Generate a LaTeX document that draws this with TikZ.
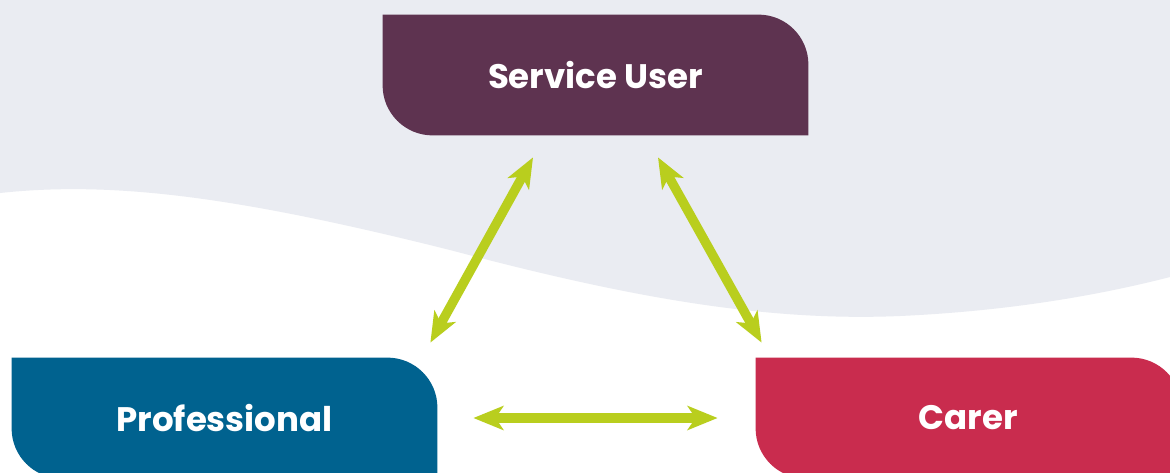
\documentclass[tikz,border=0pt]{standalone}
\usepackage{fontspec}
\setmainfont{Poppins}
\definecolor{wavegrey}{RGB}{234,236,242}
\definecolor{userplum}{RGB}{94,51,80}
\definecolor{problue}{RGB}{0,98,143}
\definecolor{carercrimson}{RGB}{201,44,78}
\definecolor{linklime}{RGB}{185,206,30}
\usetikzlibrary{calc}
\usetikzlibrary{backgrounds,arrows.meta}
\tikzset{
  role/.style={minimum width=212.5pt, minimum height=60pt, inner sep=0pt,
    text=white, font=\fontsize{17}{20}\selectfont\bfseries},
  link/.style={draw=linklime, line width=4.7pt,
    {Stealth[length=15pt,width=12pt,inset=4pt]}-{Stealth[length=15pt,width=12pt,inset=4pt]}}
}
% tile with rounded top right and bottom left corners
\newcommand{\roletile}[2]{%
  \fill[#2] (#1.north west) -- ([xshift=-25pt]#1.north east)
    arc[start angle=90,end angle=0,radius=25pt] -- (#1.south east)
    -- ([xshift=25pt]#1.south west)
    arc[start angle=270,end angle=180,radius=25pt] -- cycle;}

\begin{document}
\begin{tikzpicture}[x=0.5pt,y=0.5pt]
  \useasboundingbox (0,0) rectangle (1170,472);
  \node[role] (user) at (595.5,397) {Service User};
  \node[role] (pro) at (224.5,54) {Professional};
  \node[role] (carer) at (968.5,54) {Carer};

  \begin{scope}[on background layer]
    \fill[white] (0,0) rectangle (1170,472);
    \fill[wavegrey] (0,472) -- (1170,472) -- (1170,195)
      .. controls (1100,177) and (1010,161) .. (900,156)
      .. controls (760,150) and (620,177) .. (450,222)
      .. controls (250,272) and (120,292) .. (0,279) -- cycle;
    \roletile{user}{userplum}
    \roletile{pro}{problue}
    \roletile{carer}{carercrimson}
  \end{scope}

  \draw[link] ([shift={(-62.5,-22)}]user.south) -- ([shift={(-7,15)}]pro.north east);
  \draw[link] ([shift={(62.5,-22)}]user.south) -- ([shift={(6,15)}]carer.north west);
  \draw[link] ([xshift=18pt]pro.east) -- ([xshift=-19pt]carer.west);
\end{tikzpicture}
\end{document}
